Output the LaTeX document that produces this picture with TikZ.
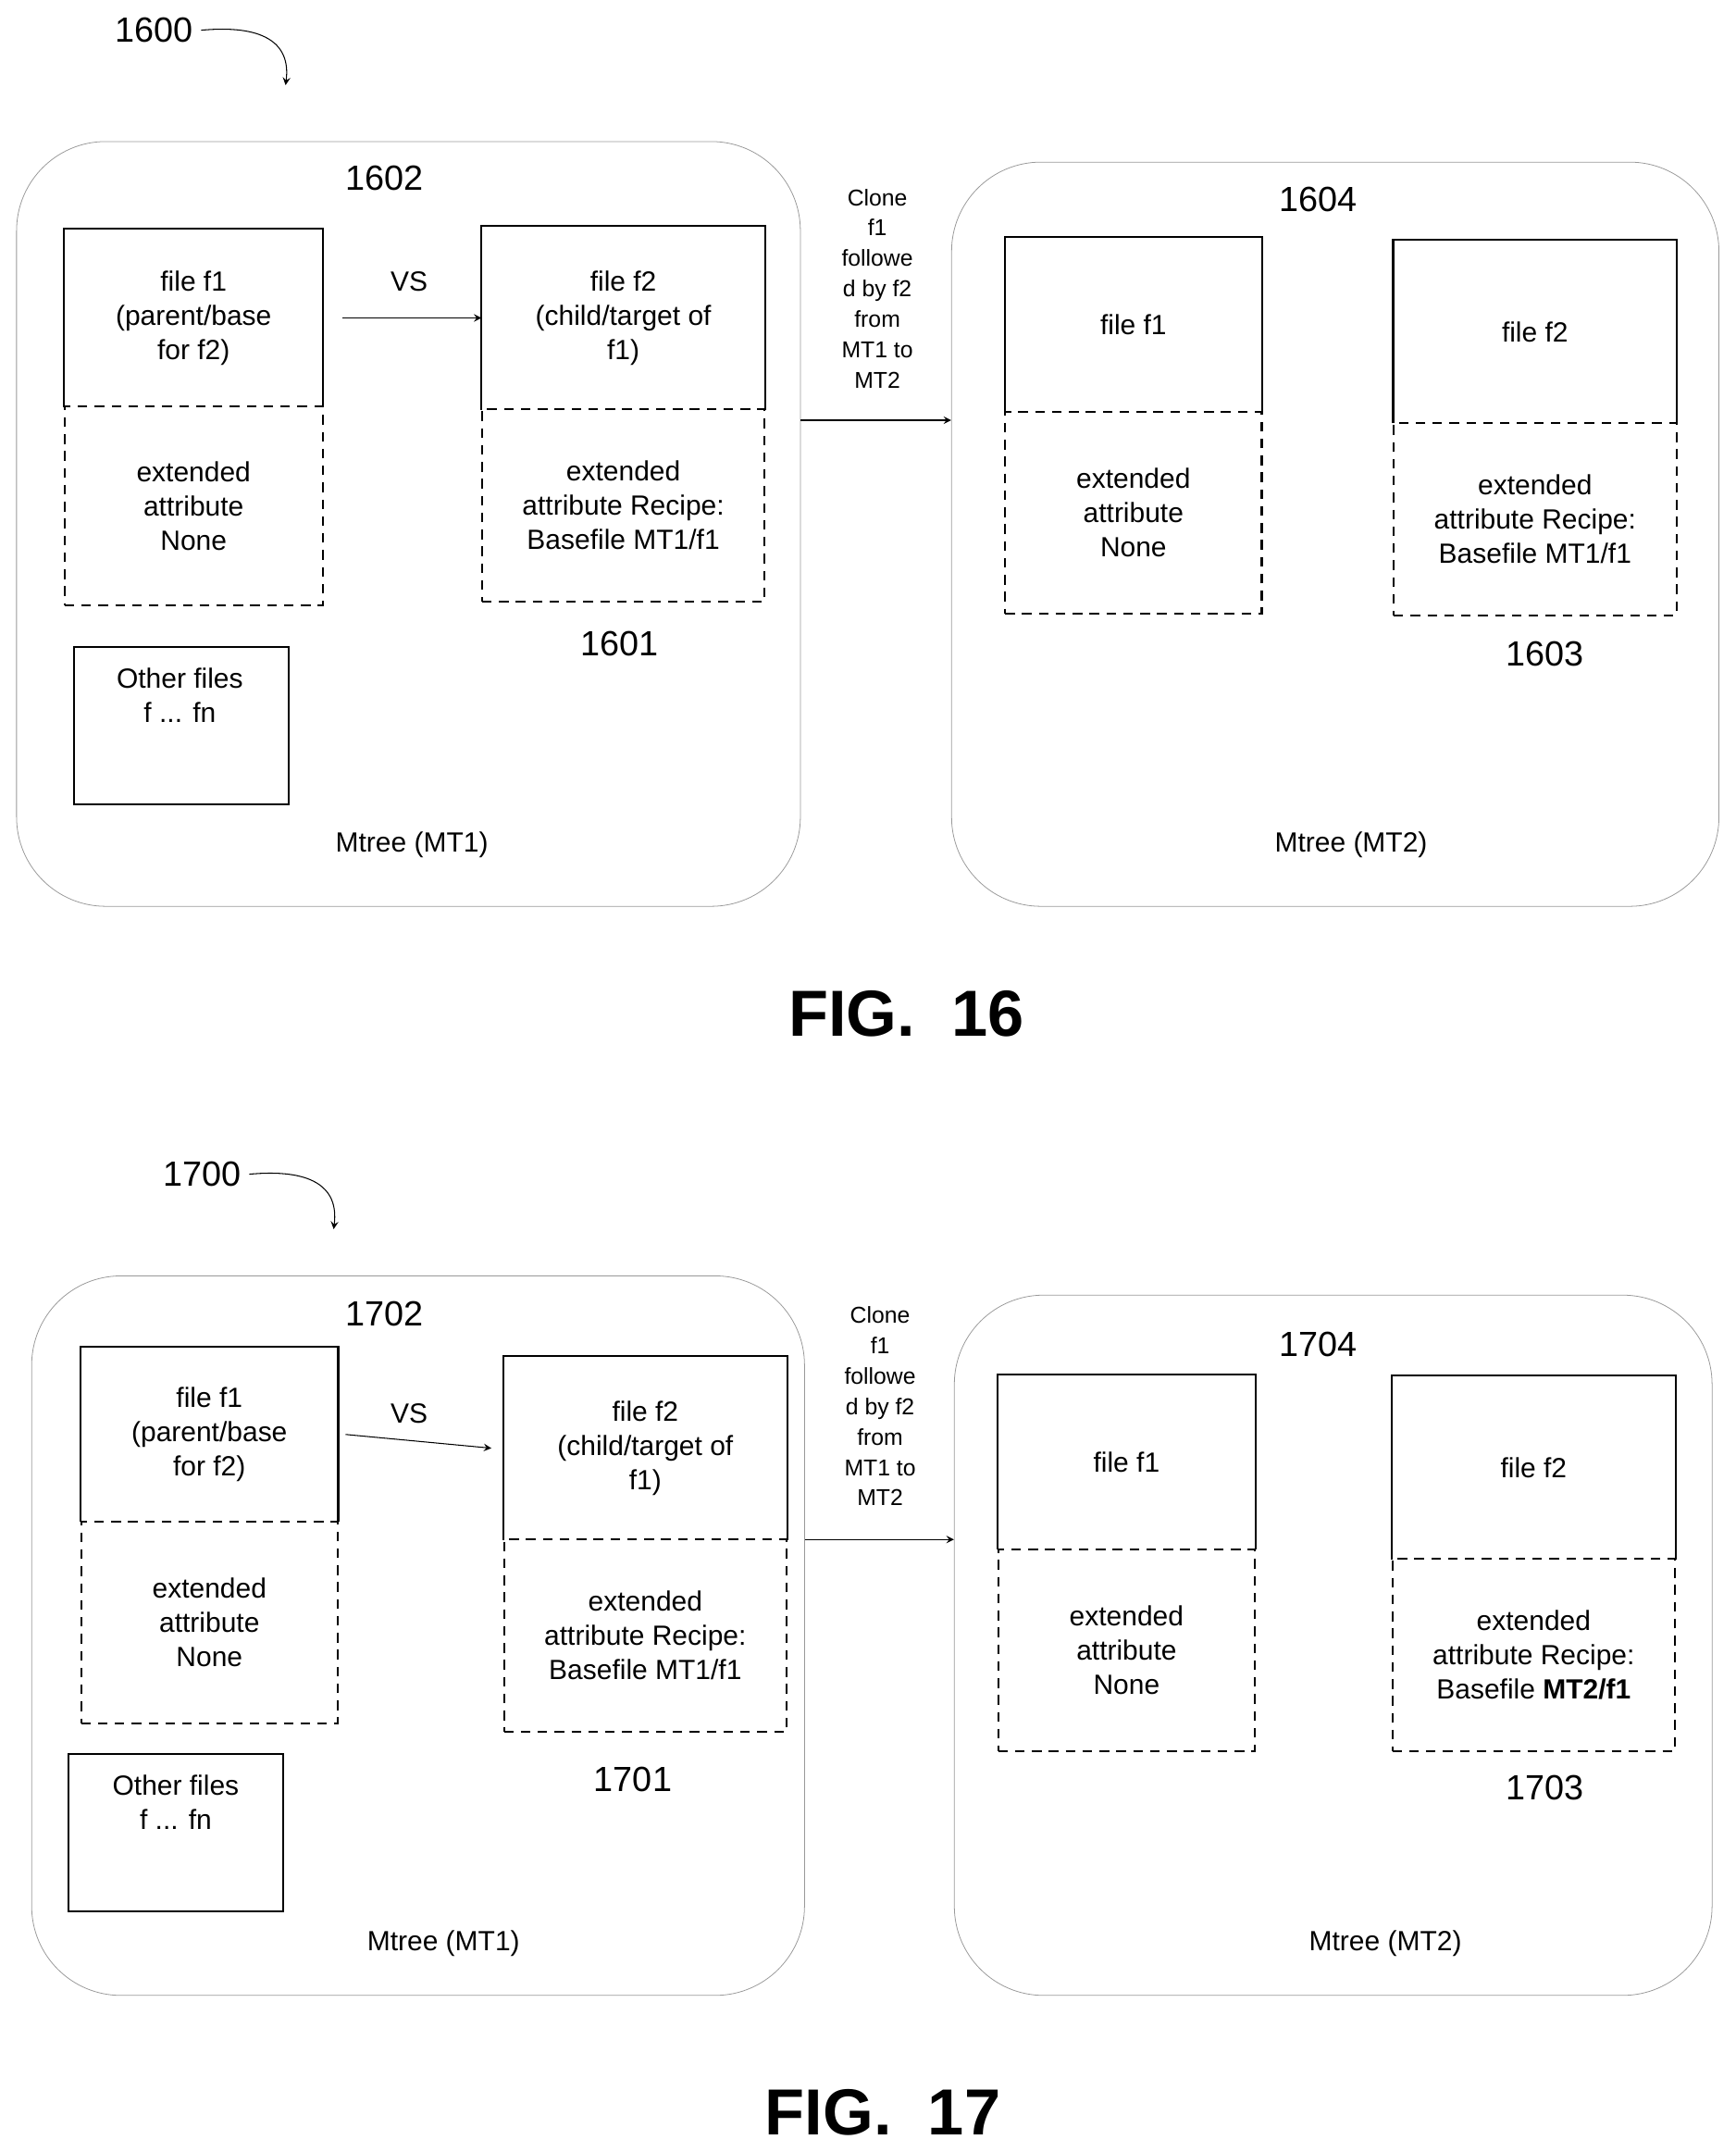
\documentclass[tikz,border=0pt]{standalone}
\usepackage{fontspec}
\setmainfont{Liberation Sans}
\begin{document}
\begin{tikzpicture}[
  x=0.02cm, y=-0.02cm,
  align=center,
  >=stealth,
  txt/.style={font=\fontsize{11.5}{14.2}\selectfont},
  num/.style={font=\fontsize{14.5}{17}\selectfont},
  mtree/.style={draw=gray!80, line width=0.3pt, rounded corners=1.3cm, inner sep=0},
  part/.style={txt, inner sep=0},
  attr/.style={part, draw, dashed, dash pattern=on 4pt off 3pt, line width=0.8pt},
  other/.style={txt, draw, line width=0.8pt, inner sep=0, minimum width=3.12cm, minimum height=2.3cm},
  clone/.style={font=\fontsize{9.5}{12.6}\selectfont},
  fig/.style={font=\fontsize{27}{30}\bfseries\selectfont}]
\useasboundingbox (0,0) rectangle (1264,1567);

%% FIG. 16
\node [num] (n1600) at (112,22) {1600};
\coordinate (t1600) at (208,62);
\draw [->] (n1600.east) .. controls (190,18) and (212,30) .. (t1600);
\node [mtree, minimum width=11.42cm, minimum height=11.14cm] (mt1a) at (297.5,381.5) {};
\node [mtree, minimum width=11.18cm, minimum height=10.84cm] (mt2a) at (972.5,389) {};
\node [num] at (280,130) {1602};
\node [num] at (960,145) {1604};
\node [num] at (451,469) {1601};
\node [num] at (1125,476) {1603};
\node [txt] at (300,615) {Mtree (MT1)};
\node [txt] at (984,615) {Mtree (MT2)};

\node [part, minimum width=3.76cm, minimum height=2.58cm] (f1a) at (141,231.5) {file f1\\(parent/base\\for f2)};
\node [attr, minimum width=3.76cm, minimum height=2.9cm] (e1a) at (141,368.5) {extended\\attribute\\None};
\node [part, minimum width=4.12cm, minimum height=2.66cm] (f2a) at (454,231.5) {file f2\\(child/target of\\f1)};
\node [attr, minimum width=4.12cm, minimum height=2.8cm] (e2a) at (454,368) {extended\\attribute Recipe:\\Basefile MT1/f1};
\node [other] (oa) at (132,528.5) {};
\node [txt] at (131,506) {Other files\\f ... fn};

\node [part, minimum width=3.74cm, minimum height=2.54cm] (g1a) at (825.5,236.5) {file f1};
\node [attr, minimum width=3.74cm, minimum height=2.94cm] (h1a) at (825.5,373.5) {extended\\attribute\\None};
\node [part, minimum width=4.12cm, minimum height=2.66cm] (g2a) at (1118,241.5) {file f2};
\node [attr, minimum width=4.12cm, minimum height=2.8cm] (h2a) at (1118,378) {extended\\attribute Recipe:\\Basefile MT1/f1};

\foreach \b in {f1a,f2a,g1a,g2a}
  \draw [line width=0.8pt] (\b.south west) |- (\b.north east) -- (\b.south east);

\node [txt] at (298,205) {VS};
\draw [->] ([xshift=8pt]f1a.east) -- (f2a.west);
\node [clone] at (639,210) {Clone\\f1\\followe\\d by f2\\from\\MT1 to\\MT2};
\draw [->] (mt1a.east |- 0,306) -- (mt2a.west |- 0,306);
\node [fig] at (660,738) {FIG.\ \ 16};

%% FIG. 17
\node [num] (n1700) at (147,855) {1700};
\coordinate (t1700) at (243,895);
\draw [->] (n1700.east) .. controls (225,851) and (247,863) .. (t1700);
\node [mtree, minimum width=11.26cm, minimum height=10.48cm] (mt1b) at (304.5,1191) {};
\node [mtree, minimum width=11.04cm, minimum height=10.2cm] (mt2b) at (971,1198) {};
\node [num] at (280,957) {1702};
\node [num] at (960,979) {1704};
\node [num] at (461,1296) {1701};
\node [num] at (1125,1302) {1703};
\node [txt] at (323,1415) {Mtree (MT1)};
\node [txt] at (1009,1415) {Mtree (MT2)};

\node [part, minimum width=3.74cm, minimum height=2.54cm] (f1b) at (152.5,1044.5) {file f1\\(parent/base\\for f2)};
\node [attr, minimum width=3.74cm, minimum height=2.94cm] (e1b) at (152.5,1181.5) {extended\\attribute\\None};
\node [part, minimum width=4.12cm, minimum height=2.66cm] (f2b) at (470,1054.5) {file f2\\(child/target of\\f1)};
\node [attr, minimum width=4.12cm, minimum height=2.8cm] (e2b) at (470,1191) {extended\\attribute Recipe:\\Basefile MT1/f1};
\node [other] (ob) at (128,1334.5) {};
\node [txt] at (128,1312) {Other files\\f ... fn};

\node [part, minimum width=3.74cm, minimum height=2.54cm] (g1b) at (820.5,1064.5) {file f1};
\node [attr, minimum width=3.74cm, minimum height=2.94cm] (h1b) at (820.5,1201.5) {extended\\attribute\\None};
\node [part, minimum width=4.12cm, minimum height=2.66cm] (g2b) at (1117,1068.5) {file f2};
\node [attr, minimum width=4.12cm, minimum height=2.8cm] (h2b) at (1117,1205) {extended\\attribute Recipe:\\Basefile \textbf{MT2/f1}};

\foreach \b in {f1b,f2b,g1b,g2b}
  \draw [line width=0.8pt] (\b.south west) |- (\b.north east) -- (\b.south east);

\node [txt] at (298,1029) {VS};
\draw [->] ([xshift=3pt]f1b.east) -- ([xshift=-5pt]f2b.west);
\node [clone] at (641,1024) {Clone\\f1\\followe\\d by f2\\from\\MT1 to\\MT2};
\draw [->] (mt1b.east |- 0,1121) -- (mt2b.west |- 0,1121);
\node [fig] at (643,1538) {FIG.\ \ 17};
\end{tikzpicture}
\end{document}
